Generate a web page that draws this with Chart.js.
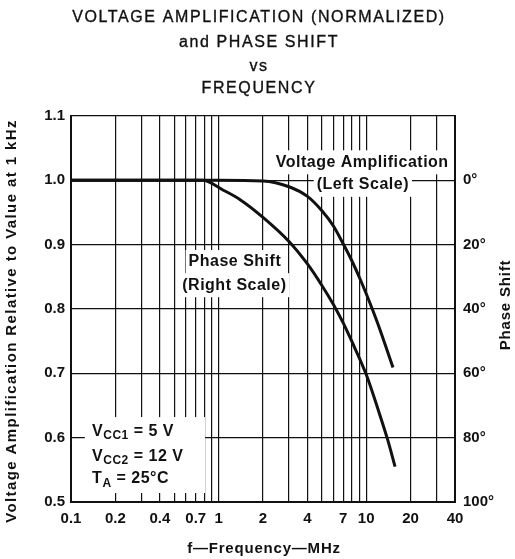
<!DOCTYPE html>
<html>
<head>
<meta charset="utf-8">
<script src="https://cdn.jsdelivr.net/npm/chart.js@4.4.1/dist/chart.umd.min.js"></script>
<style>
    html, body { margin: 0; padding: 0; background: #fff; }
    #wrap { width: 515px; height: 559px; }
</style>
</head>
<body>
<div id="wrap"><canvas id="chart" width="515" height="559"></canvas></div>
<script>
// Chart data
const titleLines = ['VOLTAGE AMPLIFICATION (NORMALIZED)', 'and PHASE SHIFT', 'vs', 'FREQUENCY'];

const freqGrid = [0.1, 0.2, 0.3, 0.4, 0.5, 0.6, 0.7, 0.8, 0.9, 1, 2, 3, 4, 5, 6, 7, 8, 9, 10, 20, 30, 40];
const freqLabels = [0.1, 0.2, 0.4, 0.7, 1, 2, 4, 7, 10, 20, 40];
const gainTicks = [0.5, 0.6, 0.7, 0.8, 0.9, 1.0, 1.1];
const phaseTicks = [-20, 0, 20, 40, 60, 80, 100];

// Voltage amplification (left scale)
const gainFreq = [0.1, 1, 2, 3, 4, 5, 6, 7, 8, 9, 10, 12, 15.2];
const gainValue = [1.0, 1.0, 0.999, 0.990, 0.975, 0.953, 0.929, 0.901, 0.875, 0.849, 0.824, 0.777, 0.709];

// Phase shift in degrees (right scale)
const phaseFreq = [0.1, 0.78, 1.07, 1.4, 2, 3, 4, 5, 6, 7, 8, 10, 12, 14, 15.7];
const phaseDeg = [0, 0, 3, 6, 11.5, 19, 26, 32.6, 38.6, 44.4, 50.1, 60.3, 71, 80.7, 89];

const INK = '#111';
const FONT = '"Liberation Sans", Arial, sans-serif';

// Text placed on the sheet (anchored in data units)
const notes = [
    { freq: 9.4, value: 1.028, runs: [['Voltage Amplification', 16]] },
    { freq: 9.5, value: 0.993, runs: [['(Left Scale)', 16]] },
    { freq: 1.29, value: 0.873, runs: [['Phase Shift', 16]] },
    { freq: 1.28, value: 0.837, runs: [['(Right Scale)', 16]] }
];

const conditions = {
    box: { f1: 0.124, f2: 0.81, v1: 0.632, v2: 0.514 },
    freq: 0.139,
    rows: [
        { value: 0.610, runs: [['V', 16, 0], ['CC1', 12, 4], [' = 5 V', 16, 0]] },
        { value: 0.571, runs: [['V', 16, 0], ['CC2', 12, 4], [' = 12 V', 16, 0]] },
        { value: 0.536, runs: [['T', 16, 0], ['A', 12, 5], [' = 25°C', 16, 0]] }
    ]
};

function runsWidth(ctx, runs) {
    let total = 0;
    runs.forEach(r => {
        ctx.font = `bold ${r[1]}px ${FONT}`;
        total += ctx.measureText(r[0]).width;
    });
    return total;
}

function drawRuns(ctx, x, y, runs, align) {
    const total = runsWidth(ctx, runs);
    let cx = align === 'center' ? x - total / 2 : x;
    runs.forEach(r => {
        ctx.font = `bold ${r[1]}px ${FONT}`;
        ctx.fillText(r[0], cx, y + (r[2] || 0));
        cx += ctx.measureText(r[0]).width;
    });
}

const sheetText = {
    id: 'sheetText',
    beforeDatasetsDraw(chart) {
        const { ctx, scales: { x, y } } = chart;
        ctx.save();
        ctx.letterSpacing = '0.5px';
        ctx.textBaseline = 'middle';
        ctx.textAlign = 'left';

        // Labels with white boxes over the grid
        notes.forEach(n => {
            const px = x.getPixelForValue(n.freq);
            const py = y.getPixelForValue(n.value);
            const w = runsWidth(ctx, n.runs);
            ctx.fillStyle = '#fff';
            ctx.fillRect(px - w / 2 - 3, py - 12, w + 6, 24);
            ctx.fillStyle = INK;
            drawRuns(ctx, px, py, n.runs, 'center');
        });

        // Operating conditions block
        const b = conditions.box;
        const bx1 = x.getPixelForValue(b.f1), bx2 = x.getPixelForValue(b.f2);
        const by1 = y.getPixelForValue(b.v1), by2 = y.getPixelForValue(b.v2);
        ctx.fillStyle = '#fff';
        ctx.fillRect(bx1, by1, bx2 - bx1, by2 - by1);
        ctx.fillStyle = INK;
        const tx = x.getPixelForValue(conditions.freq);
        conditions.rows.forEach(row => {
            drawRuns(ctx, tx, y.getPixelForValue(row.value), row.runs, 'left');
        });
        ctx.restore();
    },
    afterDraw(chart) {
        const { ctx, chartArea } = chart;
        const cx = (chartArea.left + chartArea.right) / 2;
        ctx.save();
        ctx.fillStyle = INK;
        ctx.strokeStyle = INK;
        ctx.textAlign = 'center';
        ctx.textBaseline = 'middle';

        // Main title (medium weight)
        ctx.font = `16px ${FONT}`;
        ctx.letterSpacing = '1.6px';
        ctx.lineWidth = 0.35;
        const rows = [18, 43, 67, 89];
        titleLines.forEach((t, i) => {
            ctx.fillText(t, cx - 4, rows[i]);
            ctx.strokeText(t, cx - 4, rows[i]);
        });

        // Axis titles
        ctx.font = `bold 15px ${FONT}`;
        ctx.letterSpacing = '0.8px';
        ctx.fillText('f\u2014Frequency\u2014MHz', cx + 1, 549);

        ctx.save();
        ctx.translate(12, (chartArea.top + chartArea.bottom) / 2 + 12);
        ctx.rotate(-Math.PI / 2);
        ctx.letterSpacing = '1.4px';
        ctx.fillText('Voltage Amplification Relative to Value at 1 kHz', 0, 0);
        ctx.restore();

        ctx.save();
        ctx.translate(506, 305);
        ctx.rotate(-Math.PI / 2);
        ctx.letterSpacing = '0.8px';
        ctx.fillText('Phase Shift', 0, 0);
        ctx.restore();

        ctx.restore();
    }
};

const tickFont = { family: FONT, size: 15, weight: 'bold' };

new Chart(document.getElementById('chart'), {
    type: 'line',
    data: {
        datasets: [
            {
                label: 'Voltage Amplification',
                data: gainFreq.map((f, i) => ({ x: f, y: gainValue[i] })),
                yAxisID: 'y',
                borderColor: INK,
                borderWidth: 3,
                pointRadius: 0,
                cubicInterpolationMode: 'monotone'
            },
            {
                label: 'Phase Shift',
                data: phaseFreq.map((f, i) => ({ x: f, y: phaseDeg[i] })),
                yAxisID: 'y2',
                borderColor: INK,
                borderWidth: 3,
                pointRadius: 0,
                cubicInterpolationMode: 'monotone'
            }
        ]
    },
    options: {
        responsive: false,
        animation: false,
        layout: { padding: { top: 116, left: 0, right: 0, bottom: 0 } },
        plugins: {
            legend: { display: false },
            tooltip: { enabled: false },
            title: { display: false }
        },
        scales: {
            x: {
                type: 'logarithmic',
                min: 0.1,
                max: 40,
                afterBuildTicks: s => { s.ticks = freqGrid.map(v => ({ value: v })); },
                afterFit: s => { s.height = 57; },
                grid: { color: INK, lineWidth: 1.2, drawTicks: false },
                border: { color: INK, width: 2 },
                ticks: {
                    autoSkip: false,
                    maxRotation: 0,
                    padding: 8,
                    color: INK,
                    font: tickFont,
                    callback: v => freqLabels.includes(v) ? String(v) : ''
                }
            },
            y: {
                position: 'left',
                min: 0.5,
                max: 1.1,
                afterBuildTicks: s => { s.ticks = gainTicks.map(v => ({ value: v })); },
                afterFit: s => { s.width = 71; },
                grid: { color: INK, lineWidth: 1.2, drawTicks: false },
                border: { color: INK, width: 2 },
                ticks: { padding: 6, color: INK, font: tickFont, callback: v => v.toFixed(1) }
            },
            y2: {
                position: 'right',
                reverse: true,
                min: -20,
                max: 100,
                afterBuildTicks: s => { s.ticks = phaseTicks.map(v => ({ value: v })); },
                afterFit: s => { s.width = 60; },
                grid: { display: false, drawTicks: false },
                border: { color: INK, width: 2 },
                ticks: { padding: 8, color: INK, font: tickFont, callback: v => v < 0 ? '' : v + '°' }
            }
        }
    },
    plugins: [sheetText]
});
</script>
</body>
</html>
